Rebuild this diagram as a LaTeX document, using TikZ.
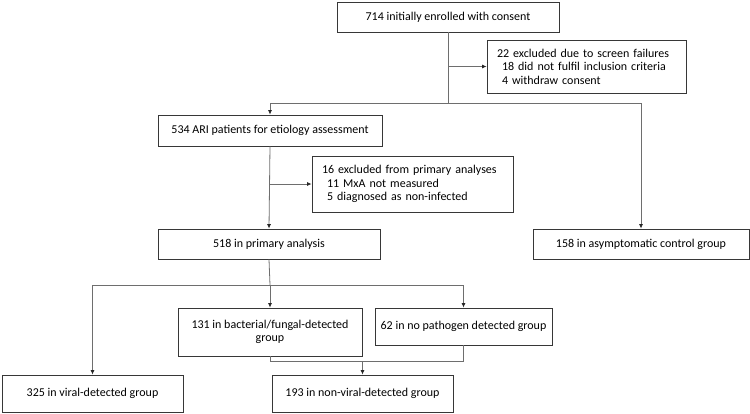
\documentclass[tikz,border=0pt]{standalone}
\usepackage{fontspec}
\setmainfont{Carlito}
\usetikzlibrary{arrows.meta}
\definecolor{boxline}{RGB}{55,55,55}
\definecolor{conn}{RGB}{110,110,110}
\hyphenpenalty=10000
\begin{document}
\begin{tikzpicture}[x=1pt,y=-1pt,
  box/.style={draw=boxline,line width=0.8pt,rectangle,inner sep=0pt,
    font=\fontsize{12}{13.6}\selectfont,text=black,align=center},
  exbox/.style={box,align=left,inner xsep=10pt},
  conline/.style={draw=conn,line width=0.8pt},
  arr/.style={conline,-{Latex[length=4.5pt,width=4pt,color=black!85]}}]
\useasboundingbox (0,0) rectangle (750,413);
% boxes
\node[box,minimum width=222pt,minimum height=30pt] (A) at (448,17) {714 initially enrolled with consent};
\node[exbox,text width=179pt,minimum height=53pt] (E1) at (586.5,66.5)
  {22 excluded due to screen failures\\\hspace*{5pt}18 did not fulfil inclusion criteria\\\hspace*{5pt}4 withdraw consent};
\node[box,minimum width=224pt,minimum height=31pt] (B) at (270,130.5) {534 ARI patients for etiology assessment};
\node[exbox,text width=181pt,minimum height=56pt] (E2) at (412.5,184)
  {16 excluded from primary analyses\\\hspace*{5pt}11 MxA not measured\\\hspace*{5pt}5 diagnosed as non-infected};
\node[box,minimum width=222pt,minimum height=30pt] (C) at (269,244) {518 in primary analysis};
\node[box,minimum width=216pt,minimum height=30pt] (D) at (641,244) {158 in asymptomatic control group};
\node[box,minimum width=184pt,minimum height=48pt] (F) at (270,332) {131 in bacterial/fungal-detected\\group};
\node[box,minimum width=177pt,minimum height=37pt] (G) at (463.5,326.5) {62 in no pathogen detected group};
\node[box,minimum width=181pt,minimum height=37pt] (H) at (92.5,393.5) {325 in viral-detected group};
\node[box,minimum width=181pt,minimum height=37pt] (I) at (362.5,393.5) {193 in non-viral-detected group};
% junctions
\coordinate (j1) at (448,103);
\coordinate (j2) at (270,285);
\coordinate (j3) at (362.5,361);
% connectors
\draw[conline] (A.south) -- (j1);
\draw[arr] (A.south |- E1.west) -- (E1.west);
\draw[arr] (j1) -| (B.north);
\draw[arr] (j1) -| (D.north);
\draw[arr] (B.south) -- (C.north);
\draw[arr] (B.south |- E2.west) -- (E2.west);
\draw[conline] (C.south) -- (j2);
\draw[arr] (j2) -| (H.north);
\draw[arr] (j2) -| (G.north);
\draw[arr] (j2) -- (F.north);
\draw[conline] (F.south) |- (G.south |- j3) -- (G.south);
\draw[arr] (j3) -- (I.north);
\end{tikzpicture}
\end{document}
